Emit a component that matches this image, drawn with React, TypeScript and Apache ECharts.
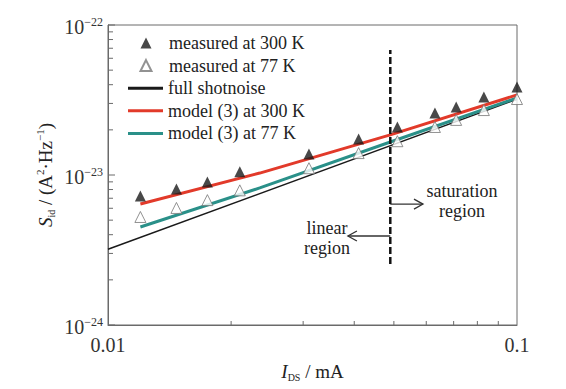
import React, { useEffect, useRef } from "react";
import * as echarts from "echarts";

// measured points (I_DS in mA, S_id in A^2/Hz)
const xMeasured = [0.012, 0.0147, 0.0175, 0.021, 0.031, 0.041, 0.051, 0.063, 0.071, 0.083, 0.1];
const measured300K = [7.24e-24, 8.07e-24, 8.98e-24, 1.05e-23, 1.38e-23, 1.74e-23, 2.09e-23, 2.59e-23, 2.84e-23, 3.31e-23, 3.86e-23];
const measured77K = [5.25e-24, 6.03e-24, 6.8e-24, 7.9e-24, 1.11e-23, 1.4e-23, 1.68e-23, 2.09e-23, 2.33e-23, 2.71e-23, 3.21e-23];
// model curves
const xModel = [0.012, 0.0235, 0.049, 0.1];
const model300K = [6.4e-24, 1.03e-23, 1.85e-23, 3.42e-23];
const model77K = [4.5e-24, 8.2e-24, 1.66e-23, 3.26e-23];
// full shot noise 2qI
const xShot = [0.01, 0.1];
const shotNoise = [3.2e-24, 3.2e-23];
// boundary between linear and saturation regions
const boundaryX = 0.049;
const boundaryY = [2.55e-24, 6.8e-23];
// annotation arrows [fromX, toX, y]
const arrows = [
  [0.049, 0.0589, 6.4e-24],
  [0.049, 0.0386, 3.92e-24],
];
// annotation texts
const noteX = [0.0734, 0.0343];
const noteY = [6.66e-24, 3.83e-24];
const noteText = ["saturation\nregion", "linear\nregion"];
// tick labels
const yTickValues = [1e-24, 1e-23, 1e-22];
const xTickLabels = ["0.01", "0.1"];
// minor ticks
const xMinorTicks = [0.02, 0.03, 0.04, 0.05, 0.06, 0.07, 0.08, 0.09];
const yMinorTicks = [
  2e-24, 3e-24, 4e-24, 5e-24, 6e-24, 7e-24, 8e-24, 9e-24,
  2e-23, 3e-23, 4e-23, 5e-23, 6e-23, 7e-23, 8e-23, 9e-23,
];

const FONT = "Liberation Serif";
const AXIS_COLOR = "#6a6a6a";
const X_MIN = 0.01, X_MAX = 0.1, Y_MIN = 1e-24, Y_MAX = 1e-22;

export default function App() {
  const ref = useRef<HTMLDivElement>(null);
  useEffect(() => {
    if (!ref.current) return;
    const chart = echarts.init(ref.current, undefined, { renderer: "svg" });
    const zip = (xs: number[], ys: number[]) => xs.map((x, i) => [x, ys[i]]);
    const legendText = { fontFamily: FONT, fontSize: 18, color: "#222", lineHeight: 20 };
    const titleRich = {
      i: { fontFamily: FONT, fontStyle: "italic", fontSize: 19, fill: "#222", color: "#222", lineHeight: 22 },
      sub: { fontFamily: FONT, fontSize: 10, fill: "#222", color: "#222", verticalAlign: "bottom", lineHeight: 14 },
      sup: { fontFamily: FONT, fontSize: 11, fill: "#222", color: "#222", verticalAlign: "top", lineHeight: 12 },
      n: { fontFamily: FONT, fontSize: 19, fill: "#222", color: "#222", lineHeight: 22 },
    };
    const option: any = {
      animation: false,
      backgroundColor: "#fff",
      textStyle: { fontFamily: FONT },
      grid: {
        left: 108, right: 49, top: 25, bottom: 64,
        containLabel: false, outerBoundsMode: "none",
        show: true, borderColor: AXIS_COLOR, borderWidth: 1,
      },
      legend: [
        {
          orient: "vertical",
          left: 139.5,
          top: 33,
          padding: 0,
          itemWidth: 11,
          itemHeight: 11,
          itemGap: 2.6,
          textStyle: { ...legendText, padding: [0, 0, 0, 12.5] },
          data: [
            { name: "measured at 300 K", icon: "triangle" },
            { name: "measured at 77 K", icon: "triangle" },
          ],
        },
        {
          orient: "vertical",
          left: 128,
          top: 78.2,
          padding: 0,
          itemWidth: 35,
          itemHeight: 3,
          itemGap: 2.6,
          textStyle: legendText,
          data: [
            { name: "full shotnoise", icon: "rect" },
            { name: "model (3) at 300 K", icon: "rect" },
            { name: "model (3) at 77 K", icon: "rect" },
          ],
        },
      ],
      graphic: [
        {
          type: "text",
          x: 45,
          y: 175,
          rotation: Math.PI / 2,
          style: {
            text: "{i|S}{sub|id}{n| / (A}{sup|2}{n|·Hz}{sup|−1}{n|)}",
            rich: titleRich,
            align: "center",
            verticalAlign: "middle",
          },
        },
      ],
      xAxis: {
        type: "log",
        logBase: 10,
        min: X_MIN,
        max: X_MAX,
        axisLine: { lineStyle: { color: AXIS_COLOR } },
        axisTick: { show: false },
        splitLine: { show: false },
        axisLabel: {
          margin: 10,
          showMinLabel: true,
          showMaxLabel: true,
          fontFamily: FONT,
          fontSize: 20,
          color: "#333",
          formatter: (v: number) => (v < 0.05 ? xTickLabels[0] : xTickLabels[1]),
        },
        name: "{i|I}{sub|DS}{n| / mA}",
        nameLocation: "middle",
        nameGap: 35,
        nameTextStyle: { rich: titleRich },
      },
      yAxis: {
        type: "log",
        logBase: 10,
        min: Y_MIN,
        max: Y_MAX,
        axisLine: { lineStyle: { color: AXIS_COLOR } },
        axisTick: { show: false },
        splitLine: { show: false },
        axisLabel: { show: false },
      },
      series: [
        {
          name: "full shotnoise",
          type: "line",
          data: zip(xShot, shotNoise),
          symbol: "none",
          lineStyle: { color: "#1a1a1a", width: 1.5 },
          itemStyle: { color: "#1a1a1a" },
          z: 2,
        },
        {
          name: "model (3) at 77 K",
          type: "line",
          data: zip(xModel, model77K),
          symbol: "none",
          lineStyle: { color: "#2a9089", width: 3 },
          itemStyle: { color: "#2a9089" },
          z: 3,
        },
        {
          name: "model (3) at 300 K",
          type: "line",
          data: zip(xModel, model300K),
          symbol: "none",
          lineStyle: { color: "#e23a2a", width: 3 },
          itemStyle: { color: "#e23a2a" },
          z: 3,
        },
        {
          name: "measured at 77 K",
          type: "scatter",
          data: zip(xMeasured, measured77K),
          symbol: "triangle",
          symbolSize: 11,
          itemStyle: { color: "#fff", borderColor: "#777", borderWidth: 1 },
          z: 4,
        },
        {
          name: "measured at 300 K",
          type: "scatter",
          data: zip(xMeasured, measured300K),
          symbol: "triangle",
          symbolSize: 11,
          itemStyle: { color: "#1a1a1a" },
          z: 5,
        },
        {
          name: "boundary",
          type: "line",
          data: [[boundaryX, boundaryY[0]], [boundaryX, boundaryY[1]]],
          symbol: "none",
          lineStyle: { color: "#111", width: 2.5, type: [7, 3] },
          z: 6,
        },
        {
          name: "arrows",
          type: "custom",
          data: arrows,
          z: 6,
          renderItem: (params: any, api: any) => {
            const a = api.coord([api.value(0), api.value(2)]);
            const b = api.coord([api.value(1), api.value(2)]);
            const dir = b[0] > a[0] ? 1 : -1;
            return {
              type: "group",
              children: [
                { type: "line", shape: { x1: a[0], y1: a[1], x2: b[0], y2: b[1] }, style: { stroke: "#333", lineWidth: 1.3 } },
                {
                  type: "polyline",
                  shape: { points: [[b[0] - dir * 9, b[1] - 5], [b[0], b[1]], [b[0] - dir * 9, b[1] + 5]] },
                  style: { stroke: "#333", lineWidth: 1.3, fill: "none" },
                },
              ],
            };
          },
        },
        {
          name: "notes",
          type: "custom",
          data: zip(noteX, noteY),
          z: 6,
          renderItem: (params: any, api: any) => {
            const p = api.coord([api.value(0), api.value(1)]);
            return {
              type: "text",
              x: p[0],
              y: p[1],
              style: {
                text: noteText[params.dataIndex],
                fontFamily: FONT,
                fontSize: 18,
                lineHeight: 20,
                fill: "#222",
                align: "center",
                verticalAlign: "middle",
              },
            };
          },
        },
        {
          name: "yLabels",
          type: "custom",
          data: yTickValues.map((y) => [X_MIN, y]),
          z: 6,
          clip: false,
          renderItem: (params: any, api: any) => {
            const v = api.value(1);
            const p = api.coord([api.value(0), v]);
            const exp = Math.round(-Math.log10(v));
            return {
              type: "group",
              children: [
                { type: "line", shape: { x1: p[0], y1: p[1], x2: p[0] + 7, y2: p[1] }, style: { stroke: AXIS_COLOR, lineWidth: 1 } },
                {
                  type: "text",
                  x: p[0] - 5,
                  y: p[1] + 2,
                  style: {
                    text: `{b|10}{s|−${exp}}`,
                    align: "right",
                    verticalAlign: "middle",
                    rich: {
                      b: { fontFamily: FONT, fontSize: 20, fill: "#333", lineHeight: 22 },
                      s: { fontFamily: FONT, fontSize: 12, fill: "#333", verticalAlign: "top", lineHeight: 12 },
                    },
                  },
                },
              ],
            };
          },
        },
        {
          name: "xMinor",
          type: "custom",
          data: xMinorTicks.map((x) => [x, Y_MIN]),
          z: 6,
          renderItem: (params: any, api: any) => {
            const p = api.coord([api.value(0), api.value(1)]);
            return { type: "line", shape: { x1: p[0], y1: p[1], x2: p[0], y2: p[1] - 4 }, style: { stroke: AXIS_COLOR, lineWidth: 1 } };
          },
        },
        {
          name: "yMinor",
          type: "custom",
          data: yMinorTicks.map((y) => [X_MIN, y]),
          z: 6,
          renderItem: (params: any, api: any) => {
            const p = api.coord([api.value(0), api.value(1)]);
            return { type: "line", shape: { x1: p[0], y1: p[1], x2: p[0] + 5, y2: p[1] }, style: { stroke: AXIS_COLOR, lineWidth: 1 } };
          },
        },
      ],
    };
    chart.setOption(option);
    return () => chart.dispose();
  }, []);
  return <div ref={ref} style={{ position: "fixed", left: 0, top: 0, width: 566, height: 389 }} />;
}
